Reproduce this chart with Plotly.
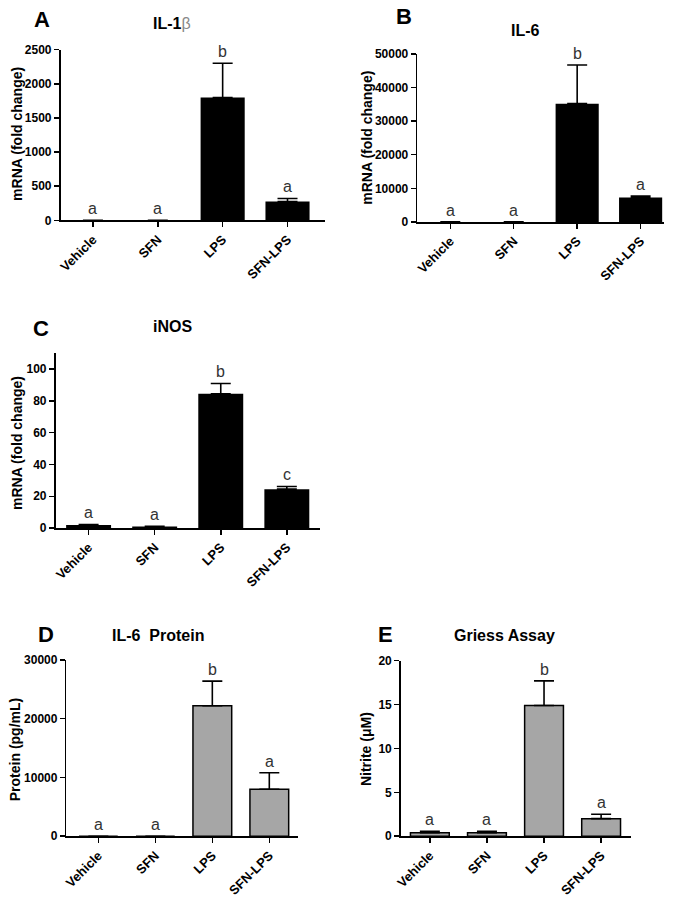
import plotly.graph_objects as go

W, H = 673, 902

categories = ["Vehicle", "SFN", "LPS", "SFN-LPS"]

il1b_mean = [1, 1, 1800, 275]
il1b_err = [0, 0, 500, 45]
il1b_sig = ["a", "a", "b", "a"]

il6_mean = [1, 1, 35200, 7300]
il6_err = [0, 0, 11500, 400]
il6_sig = ["a", "a", "b", "a"]

inos_mean = [2, 1, 84.5, 24.5]
inos_err = [0.3, 0.2, 6.5, 1.7]
inos_sig = ["a", "a", "b", "c"]

il6p_mean = [0, 0, 22200, 8000]
il6p_err = [0, 0, 4200, 2800]
il6p_sig = ["a", "a", "b", "a"]

griess_mean = [0.4, 0.4, 14.9, 2.0]
griess_err = [0.15, 0.15, 2.8, 0.5]
griess_sig = ["a", "a", "b", "a"]

FONT = "Arial, Liberation Sans, sans-serif"

panels = [
    dict(label="A", title="IL-1<span style='color:#888888;font-weight:normal'>β</span>", ytitle="mRNA (fold change)",
         mean=il1b_mean, err=il1b_err, sig=il1b_sig, fill="black",
         px=(55, 322), py=(43.3, 216.7), xr=[-0.5, 3.58], yr=[0, 2500], dt=500,
         lab=(36, 13), tit=(167, 17), yt=(11, 129)),
    dict(label="B", title="IL-6", ytitle="mRNA (fold change)",
         mean=il6_mean, err=il6_err, sig=il6_sig, fill="black",
         px=(415, 664), py=(47.7, 218.3), xr=[-0.52, 3.37], yr=[0, 50000], dt=10000,
         lab=(402, 10), tit=(524, 24), yt=(364, 133)),
    dict(label="C", title="iNOS", ytitle="mRNA (fold change)",
         mean=inos_mean, err=inos_err, sig=inos_sig, fill="black",
         px=(50, 316.7), py=(351.7, 529.3), xr=[-0.5, 3.5], yr=[0, 110], dt=20, tmax=100,
         lab=(35, 327), tit=(168, 325), yt=(11, 443)),
    dict(label="D", title="IL-6  Protein", ytitle="Protein (pg/mL)",
         mean=il6p_mean, err=il6p_err, sig=il6p_sig, fill="#a6a6a6",
         px=(61, 295), py=(663.3, 842.3), xr=[-0.56, 3.51], yr=[0, 30000], dt=10000,
         lab=(40, 637), tit=(153, 638), yt=(9, 754)),
    dict(label="E", title="Griess Assay", ytitle="Nitrite (μM)",
         mean=griess_mean, err=griess_err, sig=griess_sig, fill="#a6a6a6",
         px=(398.3, 631), py=(664, 842.3), xr=[-0.51, 3.53], yr=[0, 20], dt=5,
         lab=(383, 637), tit=(503, 638), yt=(364, 754)),
]

fig = go.Figure()
annotations = []
layout = {}

for i, p in enumerate(panels, start=1):
    xa = "x" if i == 1 else f"x{i}"
    ya = "y" if i == 1 else f"y{i}"
    outline = 1.5 if p["fill"] != "black" else 0
    fig.add_trace(go.Bar(
        x=categories, y=p["mean"], width=0.68,
        marker=dict(color=p["fill"], line=dict(color="black", width=outline)),
        error_y=dict(type="data", array=p["err"], arrayminus=[0] * 4, symmetric=False,
                     color="black", thickness=1.6, width=10),
        xaxis=xa, yaxis=ya, showlegend=False, hoverinfo="skip",
    ))
    tmax = p.get("tmax", p["yr"][1])
    tv = []
    v = 0
    while v <= tmax + 1e-9:
        tv.append(v)
        v += p["dt"]
    layout["xaxis" if i == 1 else f"xaxis{i}"] = dict(
        domain=[p["px"][0] / W, p["px"][1] / W], anchor=ya, type="category",
        range=p["xr"], showline=True, linecolor="black", linewidth=1.6,
        ticks="outside", ticklen=5, tickwidth=1.5, tickcolor="black",
        tickangle=-45, tickfont=dict(family=FONT, size=13, color="black", weight="bold"),
        showgrid=False, zeroline=False, fixedrange=True,
    )
    layout["yaxis" if i == 1 else f"yaxis{i}"] = dict(
        domain=[1 - p["py"][1] / H, 1 - p["py"][0] / H], anchor=xa,
        range=p["yr"], tickvals=tv, tickformat="d", showline=True, linecolor="black", linewidth=1.6,
        ticks="outside", ticklen=5, tickwidth=1.5, tickcolor="black",
        tickfont=dict(family=FONT, size=12, color="black", weight="bold"),
        showgrid=False, zeroline=False, fixedrange=True,
    )
    # significance letters
    for c, m, e, s in zip(categories, p["mean"], p["err"], p["sig"]):
        annotations.append(dict(
            x=c, y=m + e, xref=xa, yref=ya, text=s, showarrow=False,
            yanchor="bottom", yshift=1,
            font=dict(family=FONT, size=16, color="#333333"),
        ))
    # panel label
    annotations.append(dict(
        x=p["lab"][0] / W, y=1 - p["lab"][1] / H, xref="paper", yref="paper",
        text=f"<b>{p['label']}</b>", showarrow=False, xanchor="center", yanchor="middle",
        font=dict(family=FONT, size=22, color="black"),
    ))
    # title
    annotations.append(dict(
        x=p["tit"][0] / W, y=1 - p["tit"][1] / H, xref="paper", yref="paper",
        text=f"<b>{p['title']}</b>", showarrow=False, xanchor="center", yanchor="middle",
        font=dict(family=FONT, size=16, color="black"),
    ))
    # y-axis title
    annotations.append(dict(
        x=p["yt"][0] / W, y=1 - p["yt"][1] / H, xref="paper", yref="paper",
        text=f"<b>{p['ytitle']}</b>", showarrow=False, xanchor="center", yanchor="middle",
        textangle=-90, font=dict(family=FONT, size=14, color="black"),
    ))

fig.update_layout(
    width=W, height=H, margin=dict(l=0, r=0, t=0, b=0),
    paper_bgcolor="white", plot_bgcolor="white",
    showlegend=False, bargap=0.3, annotations=annotations, **layout,
)

fig.write_html(
    "out.html",
    config={"displayModeBar": False, "staticPlot": True},
    post_script="document.body.style.margin='0';document.body.style.overflow='hidden';",
)
